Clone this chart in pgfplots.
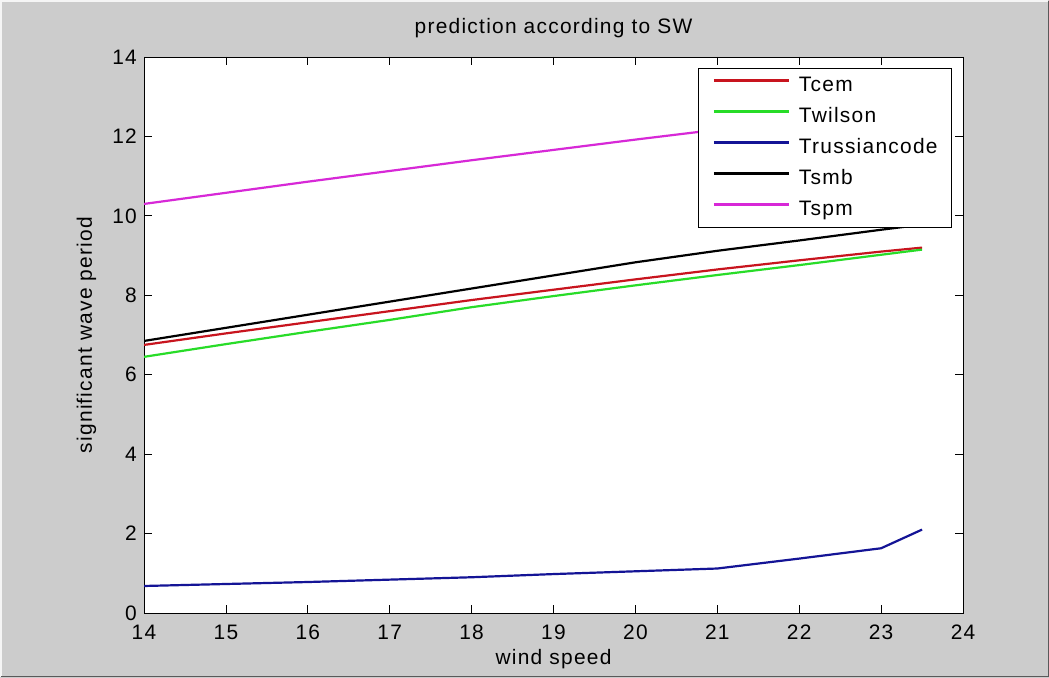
\documentclass[border=0pt]{standalone}
\usepackage{pgfplots}
\pgfplotsset{compat=1.18}
\usepackage{fontspec}
\setmainfont{Liberation Sans}[LetterSpace=6]
\definecolor{figgray}{RGB}{204,204,204}
\definecolor{cem}{RGB}{200,20,30}
\definecolor{wil}{RGB}{40,220,40}
\definecolor{rus}{RGB}{20,20,150}
\definecolor{spm}{RGB}{215,40,215}
\begin{document}
\begin{tikzpicture}[x=1bp,y=1bp]
\fill[figgray] (0,0) rectangle (1049,678);
\draw[white!80!figgray, line width=2bp] (1,1) -- (1,677) -- (1048,677);
\draw[gray!70!black, line width=1bp] (1,1) -- (1048,1) -- (1048,677);
\begin{axis}[
  at={(144bp,65bp)}, anchor=south west,
  scale only axis, width=819bp, height=556bp,
  xmin=14, xmax=24, ymin=0, ymax=14,
  xtick={14,15,...,24}, ytick={0,2,...,14},
  tick align=inside, major tick length=8bp,
  tick style={black, line width=0.8bp},
  axis line style={black, line width=0.8bp},
  axis background/.style={fill=white},
  font=\fontsize{21}{25}\selectfont,
  tick label style={font=\fontsize{21}{25}\selectfont, inner sep=0pt},
  xticklabel style={anchor=north, yshift=-12bp},
  yticklabel style={anchor=east, xshift=-7bp},
  /pgf/number format/assume math mode=true,
  title={prediction according to SW},
  title style={at={(axis description cs:0.5,1.0306)}, anchor=base, inner sep=0pt, font=\fontsize{21}{25}\selectfont},
  xlabel={wind speed},
  ylabel={significant wave period},
  xlabel style={at={(axis description cs:0.5,-0.0935)}, anchor=base, inner sep=0pt, font=\fontsize{21}{25}\selectfont},
  ylabel style={at={(axis description cs:-0.0635,0.5)}, anchor=base, inner sep=0pt, font=\fontsize{21}{25}\selectfont},
  legend style={at={(axis description cs:1,1)}, anchor=north east, xshift=-11bp, yshift=-11bp,
    draw=black, line width=0.9bp, fill=white,
    font=\fontsize{21}{25}\selectfont, row sep=12bp, column sep=9bp,
    inner xsep=14bp, inner ysep=8bp,
    nodes={inner sep=0pt, text height=15bp, text depth=4bp}},
  legend cell align=left,
  legend image code/.code={\draw[#1, line width=2.2bp] (0bp,5.5bp) -- (75bp,5.5bp);},
  every axis plot/.append style={line width=2.2bp},
]
\addplot[cem] coordinates {(14,6.75)(15,7.04)(16,7.32)(17,7.6)(18,7.88)(19,8.14)(20,8.40)(21,8.65)(22,8.88)(23,9.1)(23.5,9.2)};
\addlegendentry{Tcem}
\addplot[wil] coordinates {(14,6.45)(15,6.77)(16,7.08)(17,7.38)(18,7.70)(19,7.98)(20,8.25)(21,8.51)(22,8.76)(23,9.02)(23.5,9.15)};
\addlegendentry{Twilson}
\addplot[rus] coordinates {(14,0.68)(15,0.73)(16,0.78)(17,0.84)(18,0.9)(19,0.98)(20,1.05)(21,1.12)(22,1.37)(23,1.63)(23.5,2.1)};
\addlegendentry{Trussiancode}
\addplot[black] coordinates {(14,6.85)(15,7.18)(16,7.51)(17,7.84)(18,8.17)(19,8.50)(20,8.83)(21,9.12)(22,9.38)(23,9.65)(23.5,9.78)};
\addlegendentry{Tsmb}
\addplot[spm] coordinates {(14,10.3)(15,10.58)(16,10.86)(17,11.13)(18,11.4)(19,11.66)(20,11.92)(21,12.17)(22,12.42)(23,12.66)(23.5,12.78)};
\addlegendentry{Tspm}
\end{axis}
\end{tikzpicture}
\end{document}
